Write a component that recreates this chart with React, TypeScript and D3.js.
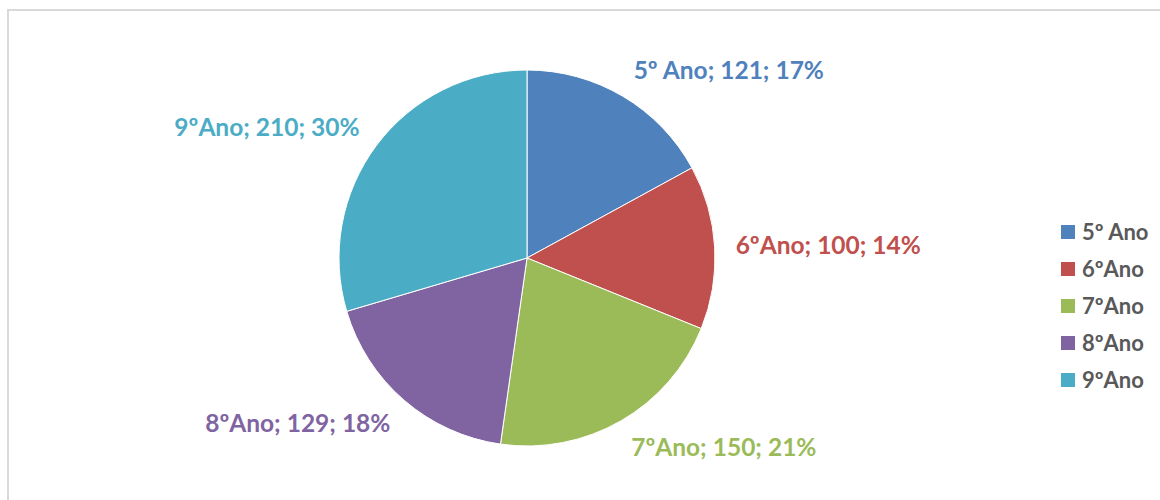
import { useEffect, useRef } from 'react';
import * as d3 from 'd3';

// data
const categories: string[] = ['5º Ano', '6ºAno', '7ºAno', '8ºAno', '9ºAno'];
const values: number[] = [121, 100, 150, 129, 210];
const percents: number[] = [17, 14, 21, 18, 30];
const colors: string[] = ['#4F81BD', '#C0504D', '#9BBB59', '#8064A2', '#4BACC6'];

interface ISlice {
	category: string;
	value: number;
	percent: number;
	color: string;
}

const width = 1160;
const height = 500;
const cx = 527;
const cy = 258;
const radius = 188;
const font = 'Lato, Calibri, Carlito, "Open Sans", sans-serif';

function App() {
	const ref = useRef<SVGSVGElement>(null);

	useEffect(() => {
		const svg = d3.select(ref.current);
		svg.selectAll('*').remove();

		const data: ISlice[] = categories.map((c, i) => ({
			category: c,
			value: values[i],
			percent: percents[i],
			color: colors[i]
		}));

		// chart frame
		svg.append('rect')
			.attr('x', 8)
			.attr('y', 10)
			.attr('width', width)
			.attr('height', height)
			.attr('fill', 'white')
			.attr('stroke', '#d9d9d9')
			.attr('stroke-width', 2);

		const g = svg.append('g').attr('transform', `translate(${cx}, ${cy})`);

		const pie = d3
			.pie<ISlice>()
			.sort(null)
			.value((d) => d.value);

		const arc = d3.arc<d3.PieArcDatum<ISlice>>().innerRadius(0).outerRadius(radius);

		const arcs = pie(data);

		g.selectAll('path.slice')
			.data(arcs)
			.enter()
			.append('path')
			.attr('class', 'slice')
			.attr('d', arc)
			.attr('fill', (d) => d.data.color)
			.attr('stroke', '#ffffff')
			.attr('stroke-width', 1);

		// outside labels
		const labelR = radius + 21;
		g.selectAll('text.label')
			.data(arcs)
			.enter()
			.append('text')
			.attr('class', 'label')
			.attr('x', (d) => labelR * Math.sin((d.startAngle + d.endAngle) / 2))
			.attr('y', (d) => {
				const a = (d.startAngle + d.endAngle) / 2;
				return -labelR * Math.cos(a) - Math.cos(a) * 9;
			})
			.attr('dy', '0.35em')
			.attr('text-anchor', (d) => (Math.sin((d.startAngle + d.endAngle) / 2) > 0 ? 'start' : 'end'))
			.style('font-family', font)
			.style('font-weight', 'bold')
			.style('font-size', '24.5px')
			.attr('fill', (d) => d.data.color)
			.text((d) => `${d.data.category}; ${d.data.value}; ${d.data.percent}%`);

		// legend
		const legendY = d3
			.scalePoint<string>()
			.domain(categories)
			.range([232, 380]);

		const legend = svg
			.append('g')
			.selectAll('g')
			.data(data)
			.enter()
			.append('g')
			.attr('transform', (d) => `translate(1061, ${legendY(d.category)})`);

		legend.append('rect')
			.attr('x', 0)
			.attr('y', -7)
			.attr('width', 14)
			.attr('height', 14)
			.attr('fill', (d) => d.color);

		legend.append('text')
			.attr('x', 21)
			.attr('y', 0)
			.attr('dy', '0.35em')
			.style('font-family', font)
			.style('font-weight', 'bold')
			.style('font-size', '22px')
			.attr('fill', '#595959')
			.text((d) => d.category);
	}, []);

	return (
		<div style={{ position: 'absolute', left: 0, top: 0 }}>
			<svg ref={ref} width={width} height={height} style={{ display: 'block' }} />
		</div>
	);
}

export default App;
